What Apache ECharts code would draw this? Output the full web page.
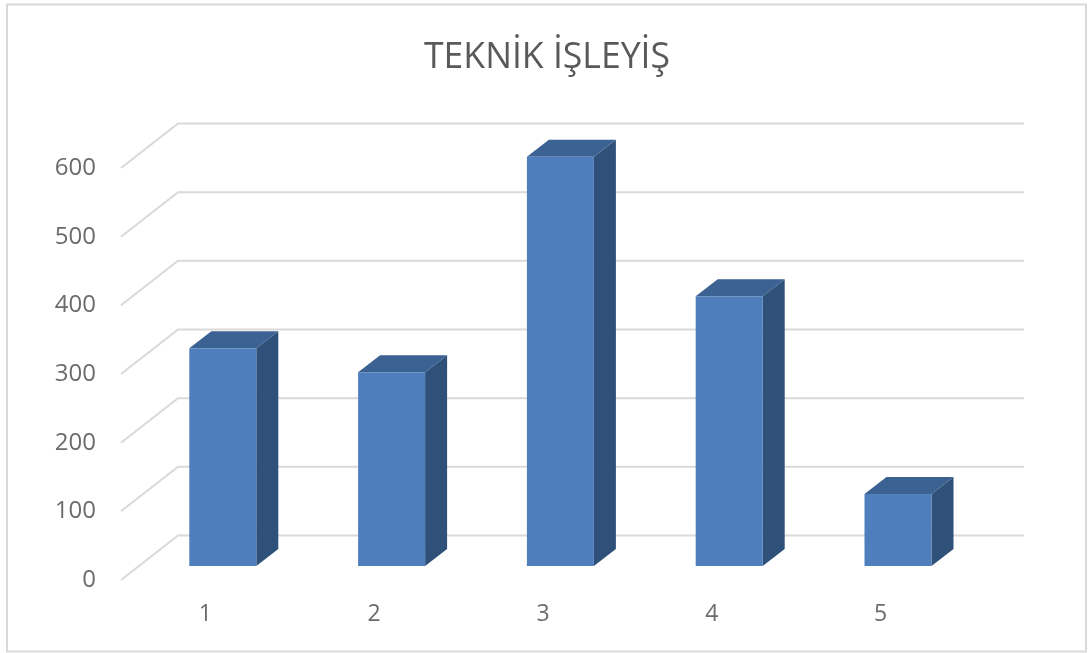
<!DOCTYPE html>
<html>
<head>
<meta charset="utf-8">
<title>TEKNİK İŞLEYİŞ</title>
<script src="https://cdn.jsdelivr.net/npm/echarts@6/dist/echarts.min.js"></script>
<style>
  html, body { margin: 0; padding: 0; background: #fff; }
  #chart { width: 1088px; height: 653px; }
</style>
</head>
<body>
<div id="chart"></div>
<script>
var titleText = "TEKNİK İŞLEYİŞ";
var categories = ["1", "2", "3", "4", "5"];
var values = [317, 282, 596, 393, 105];
var yTicks = [0, 100, 200, 300, 400, 500, 600];

// fake 3d: how far the back wall sits from the front plane
var wallDx = 57, wallDy = -44.5, wallRightDx = 59;
// bars stand a bit behind the front plane
var barDx = 17.4, barDy = -14, barWidth = 67, depthX = 22, depthY = -17;

var chart = echarts.init(document.getElementById("chart"));

function renderWall(params, api) {
  var p = api.coord([0, api.value(1)]);
  var left = params.coordSys.x;
  var right = left + params.coordSys.width;
  return {
    type: "polyline",
    shape: { points: [[left, p[1]], [left + wallDx, p[1] + wallDy], [right + wallRightDx, p[1] + wallDy]] },
    style: { fill: null, stroke: "#d9d9d9", lineWidth: 2 }
  };
}

function renderBar(params, api) {
  var top = api.coord([api.value(0), api.value(1)]);
  var base = api.coord([api.value(0), 0]);
  var x0 = top[0] + barDx - barWidth / 2;
  var x1 = x0 + barWidth;
  var yTop = top[1] + barDy;
  var yBase = base[1] + barDy;
  return {
    type: "group",
    children: [
      {
        type: "polygon",
        shape: { points: [[x1, yTop], [x1 + depthX, yTop + depthY], [x1 + depthX, yBase + depthY], [x1, yBase]] },
        style: { fill: "#2f5078" }
      },
      {
        type: "polygon",
        shape: { points: [[x0, yTop], [x0 + depthX, yTop + depthY], [x1 + depthX, yTop + depthY], [x1, yTop]] },
        style: { fill: "#3b6292" }
      },
      {
        type: "rect",
        shape: { x: x0, y: yTop, width: barWidth, height: yBase - yTop },
        style: { fill: "#4e7fbc" }
      }
    ]
  };
}

var option = {
  backgroundColor: "#fff",
  animation: false,
  title: {
    text: titleText,
    left: 542,
    top: 35,
    textAlign: "center",
    textStyle: { fontFamily: "Open Sans", fontWeight: "normal", fontSize: 35.6, color: "#595959" }
  },
  graphic: [{
    type: "rect",
    z: -1,
    shape: { x: 7, y: 4.5, width: 1079, height: 647 },
    style: { fill: null, stroke: "#d9d9d9", lineWidth: 2 }
  }],
  grid: { left: 121, top: 168, width: 844, height: 412 },
  xAxis: {
    type: "category",
    data: categories,
    axisLine: { show: false },
    axisTick: { show: false },
    axisLabel: { margin: 23, fontFamily: "Open Sans", fontSize: 23, color: "#6b6b6b" }
  },
  yAxis: {
    type: "value",
    min: 0,
    max: 600,
    interval: 100,
    splitLine: { show: false },
    axisLine: { show: false },
    axisTick: { show: false },
    axisLabel: { margin: 25, fontFamily: "Open Sans", fontSize: 24, color: "#6b6b6b" }
  },
  series: [
    {
      type: "custom",
      renderItem: renderWall,
      clip: false,
      silent: true,
      z: 1,
      data: yTicks.map(function (v) { return [0, v]; })
    },
    {
      type: "custom",
      renderItem: renderBar,
      clip: false,
      z: 2,
      data: values.map(function (v, i) { return [i, v]; })
    }
  ]
};
chart.setOption(option);
</script>
</body>
</html>
